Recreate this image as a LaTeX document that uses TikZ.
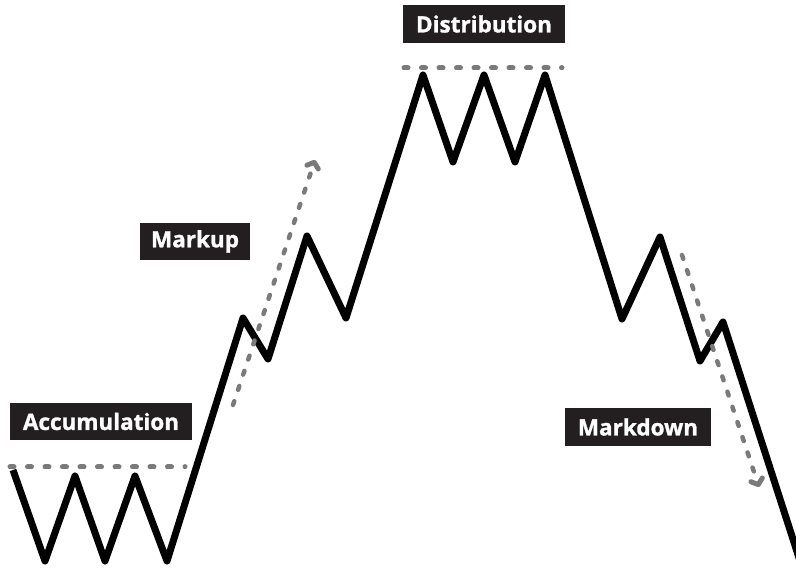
\documentclass[tikz,border=0pt]{standalone}
\usepackage{fontspec}
\setmainfont{Open Sans}
\newfontfamily\labfont[BoldFeatures={FakeBold=1.2}]{Open Sans}
\usetikzlibrary{arrows.meta}
\definecolor{boxblack}{HTML}{231F20}
\definecolor{dashgray}{HTML}{7A7A7A}
\begin{document}
\begin{tikzpicture}[x=1pt,y=-1pt,
  price/.style={line width=7pt,line join=round,draw=black},
  levelline/.style={line width=5pt,draw=dashgray,line cap=round,dash pattern=on 4pt off 13.5pt},
  trendarrow/.style={line width=4.5pt,draw=dashgray,line cap=round,dash pattern=on 4pt off 12pt,
     -{Straight Barb[length=5pt,width=12pt,line width=5pt,round]}},
  phase/.style={fill=boxblack,text=white,font=\labfont\bfseries\fontsize{22.5}{22.5}\selectfont,
     inner sep=0pt,anchor=center}]
\useasboundingbox (0,0) rectangle (796,569);
\fill[white] (0,0) rectangle (796,569);
% level lines
\coordinate (accL) at (10,467);
\coordinate (accR) at (185,467);
\coordinate (disL) at (404,68);
\coordinate (disR) at (562,68);
\draw[levelline] (accL) -- (accR);
\draw[levelline] (disL) -- (disR);
% price path
\begin{scope}
\clip (0,0) rectangle (796,569);
\draw[price] (13,470) -- (45,561) -- (75,476) -- (105,561) -- (135,476) -- (167,561)
  -- (243,318) -- (268,359) -- (307,236) -- (346,318)
  -- (423,75) -- (453,162) -- (484,75) -- (515,162) -- (545,75)
  -- (622,319) -- (660,237) -- (700,361) -- (723,322) -- (810,592);
\end{scope}
% trend arrows
\coordinate (upS) at (233,405);
\coordinate (upE) at (315,160);
\coordinate (dnS) at (682,255);
\coordinate (dnE) at (759,487);
\draw[trendarrow] (upS) -- (upE);
\draw[trendarrow] (dnS) -- (dnE);
% labels
\node[phase,minimum width=182pt,minimum height=37pt] (acc) at (101,421.5) {Accumulation};
\node[phase,minimum width=110pt,minimum height=37pt] (mup) at (195,241.5) {Markup};
\node[phase,minimum width=162pt,minimum height=38pt] (dis) at (484,24) {Distribution};
\node[phase,minimum width=146pt,minimum height=38pt] (mdn) at (638,427) {Markdown};
\end{tikzpicture}
\end{document}
